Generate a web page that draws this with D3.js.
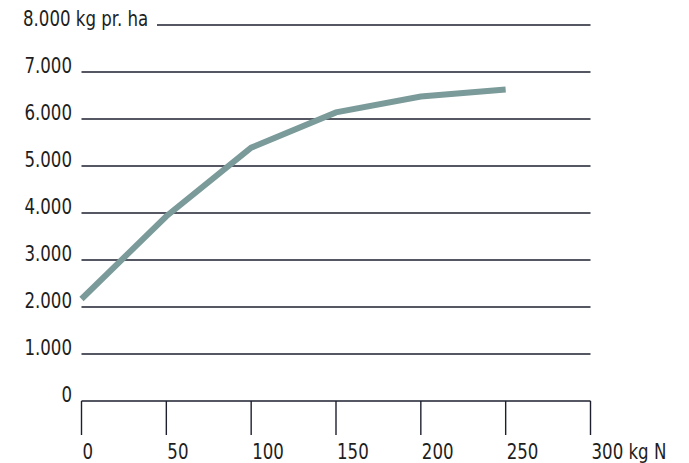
<!doctype html>
<html>
<head>
<script src="https://cdn.jsdelivr.net/npm/d3@7"></script>
<style>
  body { margin: 0; background: #fff; }
  text { font-family: "DejaVu Sans Condensed", "Liberation Sans Narrow", sans-serif; fill: #1e1e1e; font-size: 21px; }
</style>
</head>
<body>
<svg width="689" height="463"></svg>
<script>
var nitrogen = [0, 50, 100, 150, 200, 250];
var yieldKg = [2170, 3930, 5390, 6140, 6480, 6630];
var yTicks = [0, 1000, 2000, 3000, 4000, 5000, 6000, 7000, 8000];
var xTicks = [0, 50, 100, 150, 200, 250, 300];

var svg = d3.select("svg");
var x = d3.scaleLinear().domain([0, 300]).range([81.5, 590.5]);
var y = d3.scaleLinear().domain([0, 8000]).range([401, 25]);
var fmt = d => d3.format(",")(d).replace(/,/g, ".");
var squeeze = 0.88;

// gridlines
svg.selectAll(".grid").data(yTicks).enter().append("line")
  .attr("x1", d => d == 8000 ? 157 : x(0))
  .attr("x2", x(300))
  .attr("y1", d => y(d)).attr("y2", d => y(d))
  .style("stroke", "#1d1f2e").style("stroke-width", 1.4);

svg.selectAll(".ylab").data(yTicks).enter().append("text")
  .attr("transform", d => "translate(" + (d == 8000 ? 23 : 72) + "," + (y(d) + 1) + ") scale(" + squeeze + ",1)")
  .attr("text-anchor", d => d == 8000 ? "start" : "end")
  .text(d => d == 8000 ? fmt(d) + " kg pr. ha" : fmt(d));

// x ticks
svg.selectAll(".xtick").data(xTicks).enter().append("line")
  .attr("x1", d => x(d)).attr("x2", d => x(d))
  .attr("y1", y(0)).attr("y2", 435)
  .style("stroke", "#1d1f2e").style("stroke-width", 1.4);

svg.selectAll(".xlab").data(xTicks).enter().append("text")
  .attr("transform", d => "translate(" + (x(d) + 1) + ",459) scale(" + squeeze + ",1)")
  .text(d => d == 300 ? d + " kg N" : d);

// yield line
var line = d3.line().x((d, i) => x(nitrogen[i])).y(d => y(d));
svg.append("path").datum(yieldKg)
  .attr("d", line)
  .style("fill", "none")
  .style("stroke", "#7b9a9a")
  .style("stroke-width", 6);
</script>
</body>
</html>
